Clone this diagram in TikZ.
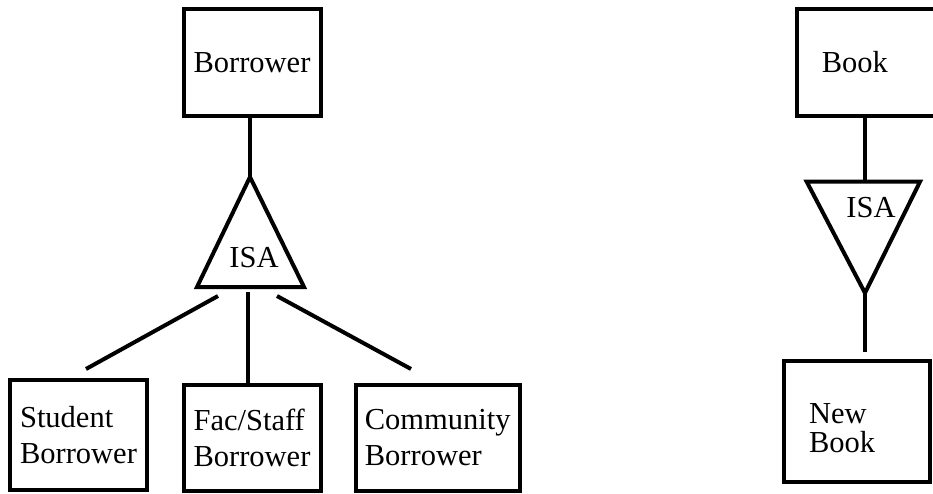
\documentclass[tikz,border=0pt]{standalone}
\usepackage{fontspec}
\setmainfont{Liberation Serif}
\usepackage{tikz}

\begin{document}
\begin{tikzpicture}[x=1pt,y=-1pt,
  ent/.style={draw,rectangle,line width=4pt,inner sep=0pt,align=left,font=\fontsize{30.5}{36}\selectfont},
  conn/.style={line width=4pt},
  isa/.style={inner sep=0pt,font=\fontsize{30.5}{36}\selectfont}]
\useasboundingbox (0,0) rectangle (933,494);
\clip (0,0) rectangle (933,494);
% borrower hierarchy
\node[ent,minimum width=137pt,minimum height=107pt] (borrower) at (252,62.5) {Borrower};
\node[ent,minimum width=137pt,minimum height=110pt] (student) at (78.5,435) {Student\\Borrower};
\node[ent,minimum width=137pt,minimum height=106pt] (facstaff) at (252,438) {Fac/Staff\\Borrower};
\node[ent,minimum width=163.5pt,minimum height=106pt] (community) at (437.75,438) {Community\\Borrower};
\coordinate (isaL-top) at (250,177);
\coordinate (isaL-bl) at (197,287);
\coordinate (isaL-br) at (304,287);
\draw[conn] (isaL-top) -- (isaL-bl) -- (isaL-br) -- cycle;
\node[isa] (isaL) at (254,258) {ISA};
\draw[conn] (isaL-top |- borrower.south) -- (isaL-top);
\coordinate (stu-a) at (218,296);
\coordinate (stu-b) at (86,369);
\coordinate (fac-a) at (248,292);
\coordinate (com-a) at (277,296);
\coordinate (com-b) at (411,369);
\draw[conn] (stu-a) -- (stu-b);
\draw[conn] (fac-a) -- (fac-a |- facstaff.north);
\draw[conn] (com-a) -- (com-b);
% book hierarchy
\node[ent,minimum width=147.5pt,minimum height=107pt,text width=98.5pt] (book) at (871,62.5) {Book};
\node[ent,minimum width=146.3pt,minimum height=121pt,text width=95.7pt,font=\fontsize{30.5}{29}\selectfont] (newbook) at (856.85,421) {\rule{0pt}{35pt}New\\Book};
\coordinate (isaR-tl) at (806.7,181.7);
\coordinate (isaR-tr) at (920,181.7);
\coordinate (isaR-apex) at (865,293);
\draw[conn] (isaR-tl) -- (isaR-tr) -- (isaR-apex) -- cycle;
\node[isa] (isaR) at (871,208) {ISA};
\draw[conn] (isaR-apex |- book.south) -- (isaR-apex |- isaR-tl);
\coordinate (newbook-in) at (865,352);
\draw[conn] (isaR-apex) -- (newbook-in);
\end{tikzpicture}
\end{document}
